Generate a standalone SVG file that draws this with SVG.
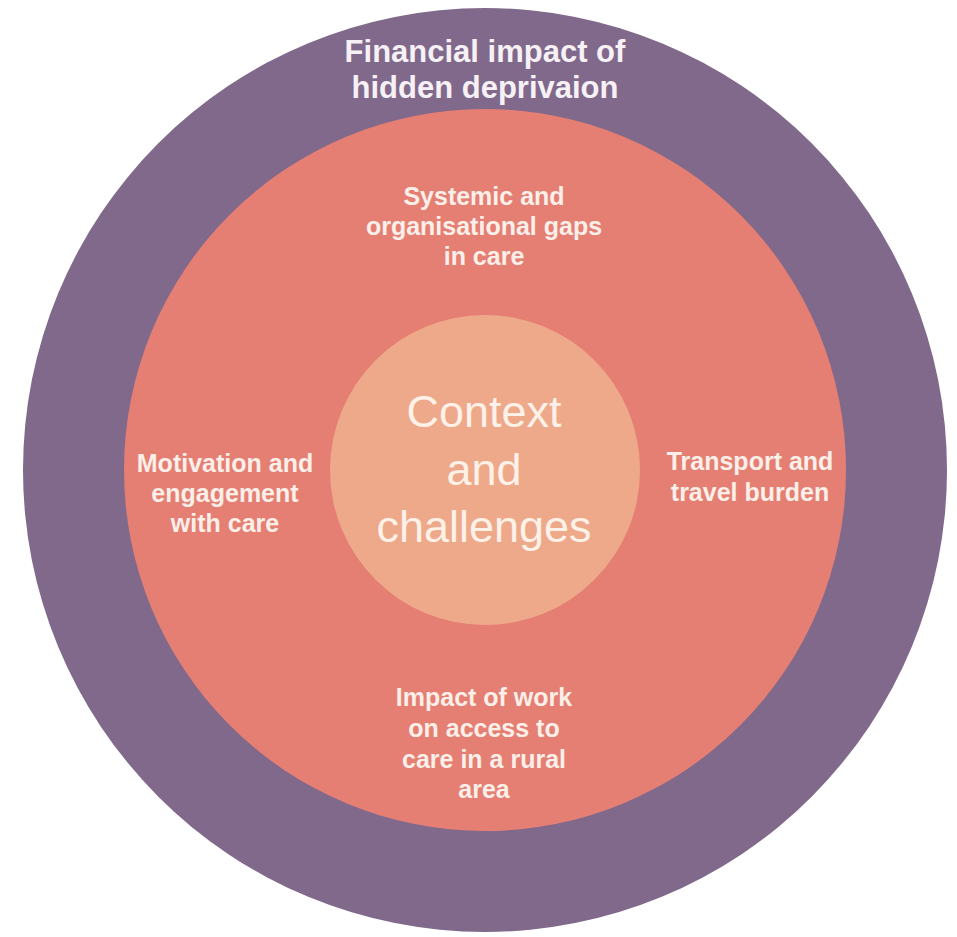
<svg xmlns="http://www.w3.org/2000/svg" width="957" height="937" viewBox="0 0 957 937">
<style>
.lbl{font-family:"Liberation Sans",Arial,sans-serif;font-weight:bold;font-size:25px;fill:#fbefe9;text-anchor:middle}
.ttl{font-family:"Liberation Sans",Arial,sans-serif;font-weight:bold;font-size:31px;fill:#f7f1f6;text-anchor:middle}
.ctr{font-family:"Liberation Sans",Arial,sans-serif;font-size:45px;fill:#fdf1e8;text-anchor:middle}
</style>
<rect width="957" height="937" fill="#ffffff"/>
<g id="outer">
<circle cx="485" cy="470" r="462" fill="#80698b"/>
<text class="ttl" x="485" y="62">Financial impact of</text>
<text class="ttl" x="485" y="98">hidden deprivaion</text>
</g>
<g id="middle">
<circle cx="485" cy="470" r="361" fill="#e67f73"/>
</g>
<g id="systemic">
<text class="lbl" x="484" y="205">Systemic and</text>
<text class="lbl" x="484" y="235">organisational gaps</text>
<text class="lbl" x="484" y="265">in care</text>
</g>
<g id="motivation">
<text class="lbl" x="225" y="472">Motivation and</text>
<text class="lbl" x="225" y="502">engagement</text>
<text class="lbl" x="225" y="532">with care</text>
</g>
<g id="transport">
<text class="lbl" x="750" y="470">Transport and</text>
<text class="lbl" x="750" y="501">travel burden</text>
</g>
<g id="work">
<text class="lbl" x="484" y="706">Impact of work</text>
<text class="lbl" x="484" y="737">on access to</text>
<text class="lbl" x="484" y="768">care in a rural</text>
<text class="lbl" x="484" y="798">area</text>
</g>
<g id="center">
<circle cx="485" cy="470" r="155" fill="#eea98b"/>
<text class="ctr" x="484" y="427">Context</text>
<text class="ctr" x="484" y="485">and</text>
<text class="ctr" x="484" y="542">challenges</text>
</g>
<g id="connectors"></g>
</svg>
